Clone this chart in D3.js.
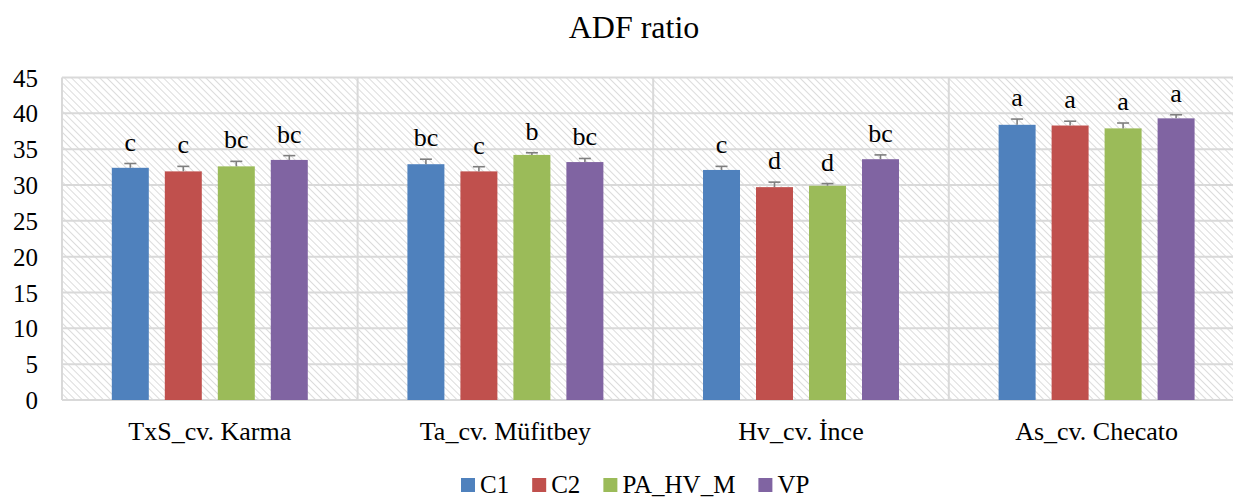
<!DOCTYPE html>
<html>
<head>
<meta charset="utf-8">
<script src="https://cdn.jsdelivr.net/npm/d3@7"></script>
<style>
  html, body { margin: 0; padding: 0; background: #fff; overflow: hidden; }
</style>
</head>
<body>
<div id="chart"></div>
<script>
const categories = ['TxS_cv. Karma', 'Ta_cv. Müfitbey', 'Hv_cv. İnce', 'As_cv. Checato'];
const seriesNames = ['C1', 'C2', 'PA_HV_M', 'VP'];
const seriesColors = ['#4f81bd', '#c0504d', '#9bbb59', '#8064a2'];

const c1Values = [32.4, 32.9, 32.1, 38.4];
const c2Values = [31.9, 31.9, 29.7, 38.3];
const paValues = [32.6, 34.2, 29.9, 37.9];
const vpValues = [33.5, 33.2, 33.6, 39.3];

const c1Errors = [0.6, 0.7, 0.5, 0.8];
const c2Errors = [0.7, 0.65, 0.7, 0.6];
const paErrors = [0.7, 0.3, 0.3, 0.75];
const vpErrors = [0.6, 0.5, 0.6, 0.5];

const c1Letters = ['c', 'bc', 'c', 'a'];
const c2Letters = ['c', 'c', 'd', 'a'];
const paLetters = ['bc', 'b', 'd', 'a'];
const vpLetters = ['bc', 'bc', 'bc', 'a'];

const yTicks = [0, 5, 10, 15, 20, 25, 30, 35, 40, 45];

const values = [c1Values, c2Values, paValues, vpValues];
const errors = [c1Errors, c2Errors, paErrors, vpErrors];
const letters = [c1Letters, c2Letters, paLetters, vpLetters];

const rows = [];
categories.forEach((cat, ci) => {
  seriesNames.forEach((s, si) => {
    rows.push({ cat, series: s, si, value: values[si][ci], err: errors[si][ci], letter: letters[si][ci] });
  });
});

const W = 1233, H = 497;
const plot = { left: 62, top: 77.5, bottom: 400, catWidth: 295.6 };
const gridColor = '#d9d9d9';
const serif = "'Liberation Serif', 'Times New Roman', Times, serif";

const svg = d3.select('#chart').append('svg')
  .attr('width', W)
  .attr('height', H)
  .style('font-family', serif);

const defs = svg.append('defs');
const pat = defs.append('pattern')
  .attr('id', 'hatch')
  .attr('patternUnits', 'userSpaceOnUse')
  .attr('width', 5)
  .attr('height', 5)
  .attr('patternTransform', 'rotate(-45)');
pat.append('rect').attr('width', 5).attr('height', 5).attr('fill', '#fff');
pat.append('line')
  .attr('x1', 0).attr('y1', 0).attr('x2', 0).attr('y2', 5)
  .attr('stroke', '#d4d4d4')
  .attr('stroke-width', 1.6);

const x0 = d3.scaleBand()
  .domain(categories)
  .range([plot.left, plot.left + categories.length * plot.catWidth]);
const x1 = d3.scaleBand()
  .domain(seriesNames)
  .range([0, x0.bandwidth()])
  .paddingInner(0.302)
  .paddingOuter(0.94);
const y = d3.scaleLinear()
  .domain([0, 45])
  .range([plot.bottom, plot.top]);

// plot background
svg.append('rect')
  .attr('x', plot.left)
  .attr('y', plot.top)
  .attr('width', x0.range()[1] - plot.left)
  .attr('height', plot.bottom - plot.top)
  .attr('fill', 'url(#hatch)');

// horizontal grid
svg.append('g')
  .selectAll('line')
  .data(yTicks)
  .join('line')
  .attr('x1', plot.left)
  .attr('x2', x0.range()[1])
  .attr('y1', d => y(d))
  .attr('y2', d => y(d))
  .attr('stroke', gridColor)
  .attr('stroke-width', 2);

// vertical category separators
svg.append('g')
  .selectAll('line')
  .data(categories)
  .join('line')
  .attr('x1', d => x0(d))
  .attr('x2', d => x0(d))
  .attr('y1', plot.top)
  .attr('y2', plot.bottom)
  .attr('stroke', gridColor)
  .attr('stroke-width', 2);

// y axis labels
const yAxis = svg.append('g')
  .attr('transform', 'translate(38,0)')
  .call(d3.axisLeft(y).tickValues(yTicks).tickSize(0).tickPadding(0));
yAxis.attr('font-family', null).attr('font-size', null);
yAxis.select('.domain').remove();
yAxis.selectAll('text')
  .style('font-family', serif)
  .style('font-size', '25px')
  .attr('fill', '#000')
  .attr('dy', '0.34em');

// bars
const groups = svg.append('g')
  .selectAll('g')
  .data(rows)
  .join('g')
  .attr('transform', d => `translate(${x0(d.cat) + x1(d.series)},0)`);

groups.append('rect')
  .attr('x', 0)
  .attr('y', d => y(d.value))
  .attr('width', x1.bandwidth())
  .attr('height', d => y(0) - y(d.value))
  .attr('fill', d => seriesColors[d.si]);

// error bars (plus side)
const cx = x1.bandwidth() / 2;
groups.append('line')
  .attr('x1', cx).attr('x2', cx)
  .attr('y1', d => y(d.value))
  .attr('y2', d => y(d.value + d.err))
  .attr('stroke', '#7f7f7f')
  .attr('stroke-width', 1.6);
groups.append('line')
  .attr('x1', cx - 6).attr('x2', cx + 6)
  .attr('y1', d => y(d.value + d.err))
  .attr('y2', d => y(d.value + d.err))
  .attr('stroke', '#7f7f7f')
  .attr('stroke-width', 1.6);

// significance letters
groups.append('text')
  .attr('x', cx)
  .attr('y', d => y(d.value + d.err) - 13)
  .attr('text-anchor', 'middle')
  .style('font-size', '26px')
  .text(d => d.letter);

// category labels
svg.append('g')
  .selectAll('text')
  .data(categories)
  .join('text')
  .attr('x', d => x0(d) + x0.bandwidth() / 2)
  .attr('y', 440)
  .attr('text-anchor', 'middle')
  .style('font-size', '26px')
  .text(d => d);

// title
svg.append('text')
  .attr('x', 634)
  .attr('y', 38)
  .attr('text-anchor', 'middle')
  .style('font-size', '32px')
  .text('ADF ratio');

// legend
const legend = svg.append('g');
let lx = 0;
seriesNames.forEach((s, i) => {
  const item = legend.append('g').attr('transform', `translate(${lx},0)`);
  item.append('rect')
    .attr('x', 0).attr('y', 478)
    .attr('width', 14).attr('height', 14)
    .attr('fill', seriesColors[i]);
  const t = item.append('text')
    .attr('x', 19).attr('y', 493)
    .style('font-size', '25px')
    .text(s);
  lx += 19 + t.node().getComputedTextLength() + 23;
});
legend.attr('transform', 'translate(461,0)');
</script>
</body>
</html>
